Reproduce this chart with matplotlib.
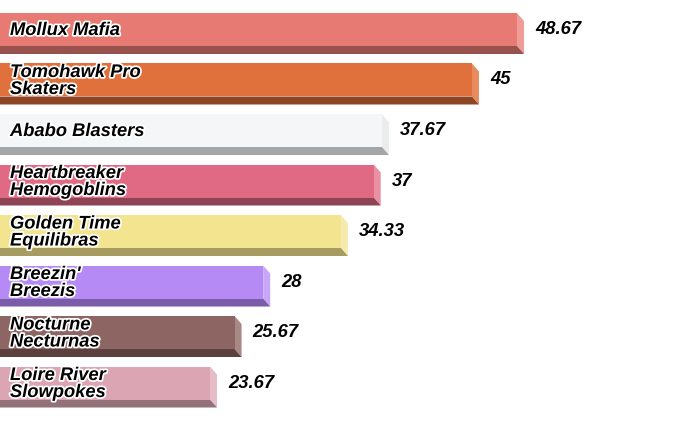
import matplotlib.pyplot as plt
import matplotlib.patheffects as pe
from matplotlib.patches import Polygon

teams = ["Mollux Mafia", "Tomohawk Pro\nSkaters", "Ababo Blasters",
         "Heartbreaker\nHemogoblins", "Golden Time\nEquilibras", "Breezin'\nBreezis",
         "Nocturne\nNecturnas", "Loire River\nSlowpokes"]
scores = [48.67, 45, 37.67, 37, 34.33, 28, 25.67, 23.67]
value_labels = ["48.67", "45", "37.67", "37", "34.33", "28", "25.67", "23.67"]

face_colors = ["#e77b73", "#e0703c", "#f5f6f8", "#e06a83", "#f3e48f", "#b68af5", "#8d6562", "#dba5b4"]
side_colors = ["#ee9c96", "#e88c60", "#ebecee", "#e990a3", "#f6ebae", "#c9a7f8", "#a88885", "#e5bcc7"]
bottom_colors = ["#98524e", "#8f4524", "#a4a5a7", "#8f4456", "#a79c60", "#7a5ca8", "#5b403e", "#93717b"]

W, H = 700, 421
fig = plt.figure(figsize=(W / 100, H / 100), dpi=100)
ax = fig.add_axes([0, 0, 1, 1])
ax.axis("off")

# axis scale chosen to match the reference crop
x_lo, x_hi = 6.57, 63.57
y_top, y_bot = -0.584, 7.752
ax.set_xlim(x_lo, x_hi)
ax.set_ylim(y_bot, y_top)

px_x = W / (x_hi - x_lo)
px_y = H / (y_bot - y_top)
dx = 7 / px_x
dy = 8 / px_y
bar_h = 33 / px_y

ypos = list(range(len(teams)))
ax.barh(ypos, scores, height=bar_h, color=face_colors, left=0, zorder=3)

for i, v in enumerate(scores):
    top = i - bar_h / 2
    bot = i + bar_h / 2
    side = Polygon([(v, top), (v + dx, top + dy), (v + dx, bot + dy), (v, bot)],
                   closed=True, facecolor=side_colors[i], edgecolor="none", zorder=2)
    bottom = Polygon([(0, bot), (v, bot), (v + dx, bot + dy), (0, bot + dy)],
                     closed=True, facecolor=bottom_colors[i], edgecolor="none", zorder=2)
    ax.add_patch(side)
    ax.add_patch(bottom)

    ax.text(x_lo + 10 / px_x, i + 0.02, teams[i], ha="left", va="center",
            fontsize=13.2, fontweight="bold", fontstyle="italic",
            family="Liberation Sans", linespacing=1.0, color="black", zorder=5,
            path_effects=[pe.withStroke(linewidth=2.5, foreground="white")])
    ax.text(v + dx + 11 / px_x, i, value_labels[i], ha="left", va="center",
            fontsize=13.2, fontweight="bold", fontstyle="italic",
            family="Liberation Sans", color="black", zorder=5)

fig.savefig("out.png", dpi=100)
